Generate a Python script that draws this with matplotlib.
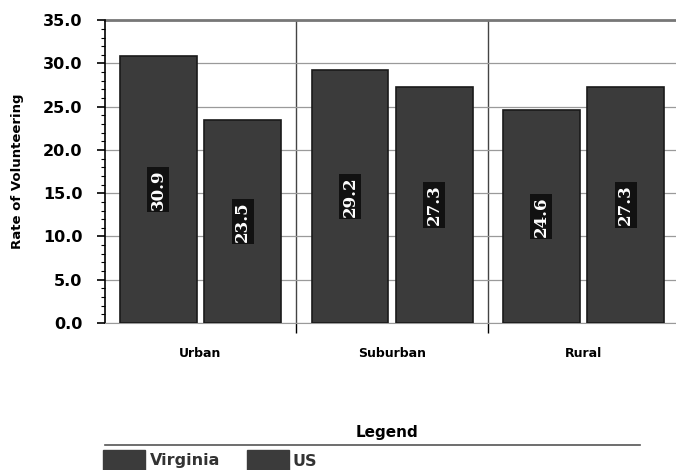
import matplotlib
matplotlib.use("Agg")
import matplotlib.pyplot as plt
import numpy as np
from matplotlib.patches import Rectangle
from matplotlib.lines import Line2D
from matplotlib.ticker import MultipleLocator, FixedLocator

categories = ["Urban", "Suburban", "Rural"]
virginia = [30.9, 29.2, 24.6]
us = [23.5, 27.3, 27.3]
series_names = ["Virginia", "US"]
yticks = [0.0, 5.0, 10.0, 15.0, 20.0, 25.0, 30.0, 35.0]

fig = plt.figure(figsize=(6.76, 4.70), dpi=100)
ax = fig.add_axes([0.155, 0.3128, 0.85, 0.6442])

x = np.arange(len(categories))
w = 0.40
off = 0.22
bar_color = "#3b3b3b"
edge = "#1a1a1a"
b1 = ax.bar(x - off, virginia, w, color=bar_color, edgecolor=edge, linewidth=1.2, zorder=3)
b2 = ax.bar(x + off, us, w, color=bar_color, edgecolor=edge, linewidth=1.2, zorder=3)

for bars, vals in ((b1, virginia), (b2, us)):
    for rect, v in zip(bars, vals):
        ax.text(rect.get_x() + rect.get_width() / 2, v / 2, f"{v:.1f}",
                rotation=90, ha="center", va="center", color="white",
                fontsize=12, fontweight="bold", family="DejaVu Serif", zorder=4,
                bbox=dict(boxstyle="square,pad=0.15", fc="#111111", ec="none"))

ax.set_xlim(-0.5, 2.5)
ax.set_ylim(0, 35)
ax.set_yticks(yticks)
ax.set_yticklabels([f"{t:.1f}" for t in yticks], fontsize=11.5, fontweight="bold")
ax.yaxis.set_minor_locator(MultipleLocator(1))
ax.tick_params(axis="y", which="major", length=6, width=1.2, pad=10)
ax.tick_params(axis="y", which="minor", length=3, width=0.8)

ax.set_xticks(x)
ax.set_xticklabels(categories, fontsize=9, fontweight="bold")
ax.tick_params(axis="x", which="major", length=0, pad=17)
ax.xaxis.set_minor_locator(FixedLocator([0.5, 1.5]))
ax.tick_params(axis="x", which="minor", length=7, width=1.0, direction="out")

ax.grid(axis="y", which="major", color="#9a9a9a", linewidth=0.9, zorder=1)
ax.grid(axis="x", which="minor", color="#444444", linewidth=1.0, zorder=1)
ax.set_axisbelow(True)
for s in ["top", "right"]:
    ax.spines[s].set_visible(False)
ax.spines["left"].set_linewidth(1.2)
ax.spines["bottom"].set_color("#9a9a9a")
ax.axhline(35, color="#777777", linewidth=2.0, zorder=2, clip_on=False)

ax.set_ylabel("Rate of Volunteering", fontsize=9.5, fontweight="bold", labelpad=14)

# Legend
fig.text(387 / 676, 1 - 432 / 470, "Legend", fontsize=11, fontweight="bold",
         ha="center", va="center")
fig.add_artist(Line2D([105 / 676, 640 / 676], [1 - 445 / 470, 1 - 445 / 470],
                      color="#555555", linewidth=1.2))
patch_pos = [103, 247]
text_pos = [150, 292]
for name, px, tx in zip(series_names, patch_pos, text_pos):
    fig.add_artist(Rectangle((px / 676, 0), 42 / 676, 20 / 470,
                             transform=fig.transFigure, color=bar_color))
    fig.text(tx / 676, 1 - 461 / 470, name, fontsize=11.5, fontweight="bold",
             ha="left", va="center", color="#333333")

fig.savefig("out.png", dpi=100)
